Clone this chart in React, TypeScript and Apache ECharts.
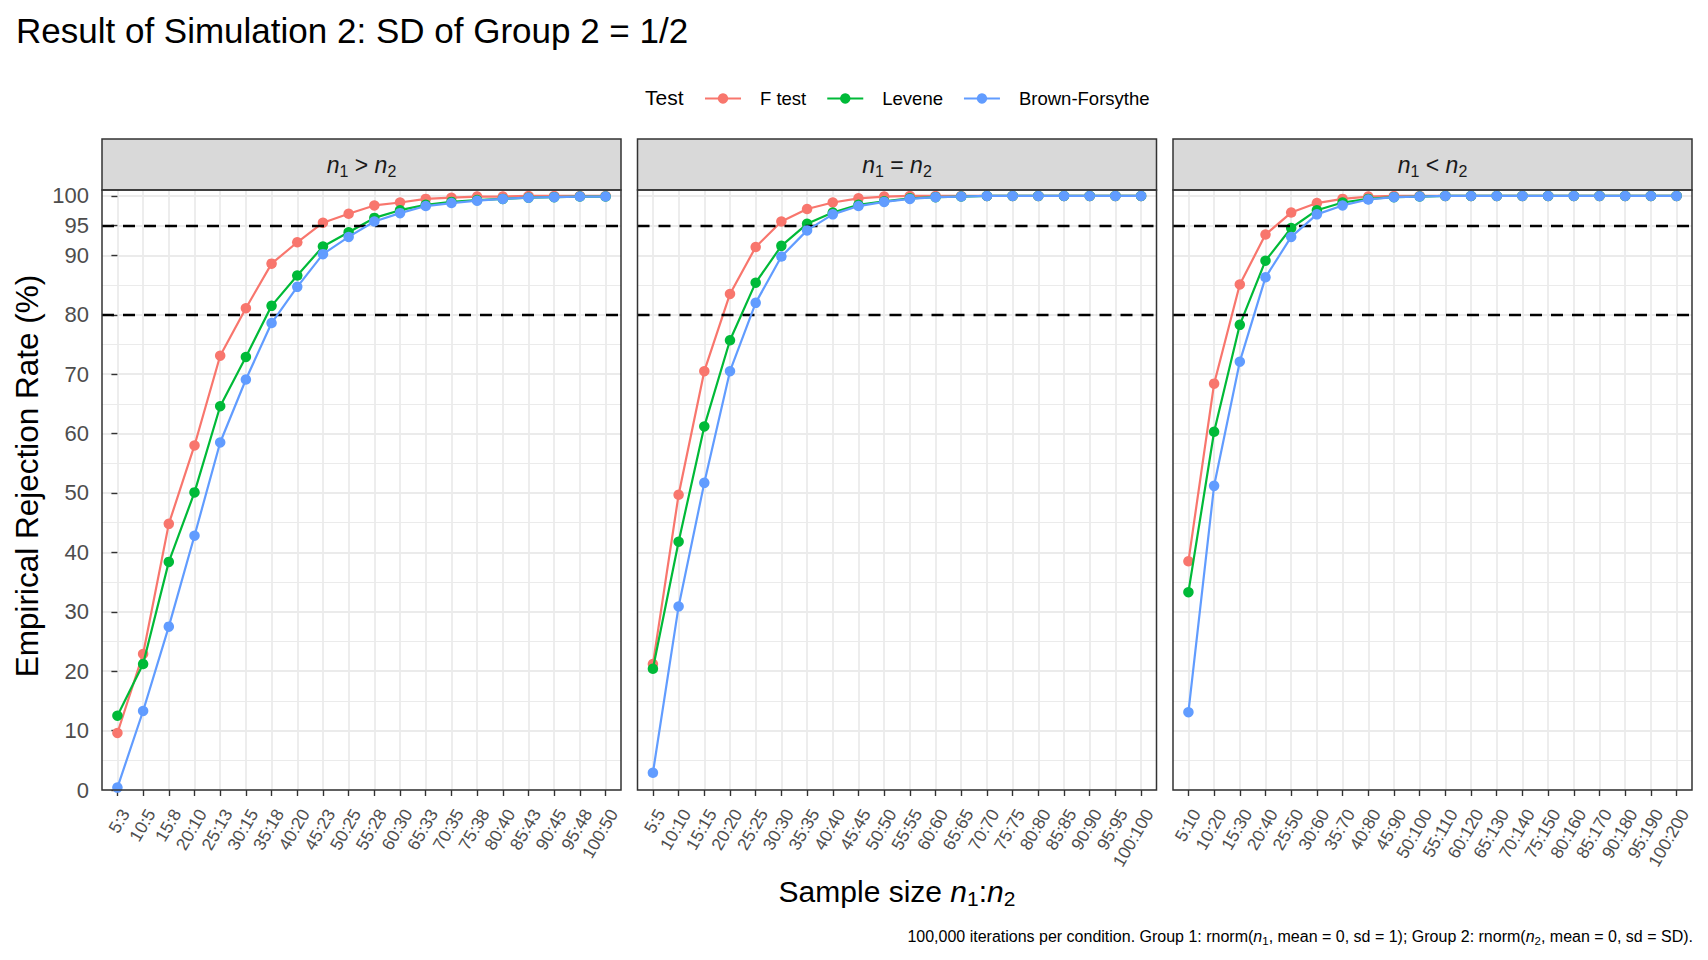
import { useEffect, useRef } from 'react';
import * as echarts from 'echarts';

const FONT = '"Liberation Sans", Arial, Helvetica, sans-serif';

const TESTS = ['F test', 'Levene', 'Brown-Forsythe'];
const COLORS = ['#F8766D', '#00BA38', '#619CFF'];

// x categories (n1:n2) per facet
const labelsGt = ['5:3', '10:5', '15:8', '20:10', '25:13', '30:15', '35:18', '40:20', '45:23', '50:25', '55:28', '60:30', '65:33', '70:35', '75:38', '80:40', '85:43', '90:45', '95:48', '100:50'];
const labelsEq = ['5:5', '10:10', '15:15', '20:20', '25:25', '30:30', '35:35', '40:40', '45:45', '50:50', '55:55', '60:60', '65:65', '70:70', '75:75', '80:80', '85:85', '90:90', '95:95', '100:100'];
const labelsLt = ['5:10', '10:20', '15:30', '20:40', '25:50', '30:60', '35:70', '40:80', '45:90', '50:100', '55:110', '60:120', '65:130', '70:140', '75:150', '80:160', '85:170', '90:180', '95:190', '100:200'];

// empirical rejection rate (%), n1 > n2
const fTestGt = [9.6, 22.9, 44.8, 58.0, 73.1, 81.1, 88.6, 92.2, 95.5, 97.0, 98.4, 98.9, 99.5, 99.7, 99.9, 99.9, 100, 100, 100, 100];
const leveneGt = [12.5, 21.2, 38.4, 50.1, 64.6, 72.9, 81.5, 86.6, 91.5, 93.9, 96.3, 97.6, 98.5, 99.0, 99.3, 99.5, 99.7, 99.8, 99.9, 99.9];
const bfGt = [0.4, 13.3, 27.5, 42.8, 58.5, 69.1, 78.6, 84.7, 90.2, 93.1, 95.7, 97.1, 98.3, 98.8, 99.2, 99.5, 99.7, 99.8, 99.9, 99.9];

// n1 = n2
const fTestEq = [21.2, 49.7, 70.5, 83.5, 91.4, 95.7, 97.8, 98.9, 99.6, 99.9, 100, 100, 100, 100, 100, 100, 100, 100, 100, 100];
const leveneEq = [20.4, 41.8, 61.2, 75.7, 85.4, 91.6, 95.3, 97.2, 98.5, 99.1, 99.6, 99.8, 99.9, 100, 100, 100, 100, 100, 100, 100];
const bfEq = [2.9, 30.9, 51.7, 70.5, 82.0, 89.8, 94.2, 96.9, 98.3, 99.0, 99.5, 99.8, 99.9, 100, 100, 100, 100, 100, 100, 100];

// n1 < n2
const fTestLt = [38.5, 68.4, 85.1, 93.5, 97.2, 98.8, 99.5, 99.9, 100, 100, 100, 100, 100, 100, 100, 100, 100, 100, 100, 100];
const leveneLt = [33.3, 60.3, 78.3, 89.1, 94.6, 97.6, 98.9, 99.5, 99.8, 99.9, 100, 100, 100, 100, 100, 100, 100, 100, 100, 100];
const bfLt = [13.1, 51.2, 72.1, 86.3, 93.1, 96.9, 98.4, 99.4, 99.8, 99.9, 100, 100, 100, 100, 100, 100, 100, 100, 100, 100];

const Y_TICKS = [0, 10, 20, 30, 40, 50, 60, 70, 80, 90, 95, 100];
const REF_LINES = [80, 95];

const PANELS = [
  { strip: ' > ', labels: labelsGt, values: [fTestGt, leveneGt, bfGt] },
  { strip: ' = ', labels: labelsEq, values: [fTestEq, leveneEq, bfEq] },
  { strip: ' < ', labels: labelsLt, values: [fTestLt, leveneLt, bfLt] },
];

// layout (px)
const PANEL_LEFT = [102, 637.5, 1173];
const PANEL_W = 519;
const PANEL_TOP = 190;
const PANEL_H = 600;
const STRIP_TOP = 139;

function richStyles(size: number, subSize: number, color: string) {
  return {
    t: { fontSize: size, fontFamily: FONT, fill: color, lineHeight: size + 6 },
    i: { fontSize: size, fontFamily: FONT, fontStyle: 'italic', fill: color, lineHeight: size + 6 },
    s: { fontSize: subSize, fontFamily: FONT, fill: color, lineHeight: subSize, verticalAlign: 'bottom' },
  };
}

function buildOption() {
  const idx = PANELS[0].labels.map((_, k) => k);

  const grid = PANEL_LEFT.map((left) => ({
    left,
    top: PANEL_TOP,
    width: PANEL_W,
    height: PANEL_H,
    containLabel: false,
    outerBoundsMode: 'none',
  }));

  const xAxis = PANELS.map((p, i) => ({
    type: 'value',
    gridIndex: i,
    min: -0.6,
    max: 19.6,
    axisLine: { show: false },
    axisTick: { show: true, customValues: idx, length: 6, lineStyle: { color: '#333333', width: 1.4 } },
    axisLabel: {
      customValues: idx,
      rotate: 60,
      align: 'right',
      verticalAlign: 'top',
      margin: 16,
      hideOverlap: false,
      color: '#4D4D4D',
      fontSize: 17.5,
      fontFamily: FONT,
      formatter: (v: number) => p.labels[Math.round(v)],
    },
    splitLine: { show: true, lineStyle: { color: '#EBEBEB', width: 1.8 } },
  }));

  // major axes (0..2) carry labels; minor axes (3..5) only draw the 5-step grid
  const yMajor = PANELS.map((_, i) => ({
    type: 'value',
    gridIndex: i,
    min: 0,
    max: 101,
    interval: 10,
    axisLine: { show: false },
    axisTick: { show: i === 0, customValues: Y_TICKS, length: 6, lineStyle: { color: '#333333', width: 1.4 } },
    axisLabel: { show: i === 0, customValues: Y_TICKS, color: '#4D4D4D', fontSize: 22, fontFamily: FONT, margin: 13 },
    splitLine: { show: true, lineStyle: { color: '#EBEBEB', width: 1.8 } },
  }));
  const yMinor = PANELS.map((_, i) => ({
    type: 'value',
    gridIndex: i,
    min: 0,
    max: 101,
    interval: 5,
    position: 'left',
    axisLine: { show: false },
    axisTick: { show: false },
    axisLabel: { show: false },
    splitLine: { show: true, showMinLine: false, showMaxLine: false, lineStyle: { color: '#EBEBEB', width: 1 } },
  }));

  const series: any[] = [];
  PANELS.forEach((p, i) => {
    series.push({
      type: 'line',
      xAxisIndex: i,
      yAxisIndex: i,
      data: [],
      silent: true,
      z: 1,
      markLine: {
        silent: true,
        symbol: ['none', 'none'],
        label: { show: false },
        lineStyle: { color: '#000000', type: [12, 9], width: 2.4 },
        emphasis: { disabled: true },
        data: REF_LINES.map((y) => ({ yAxis: y })),
      },
    });
    p.values.forEach((vals, t) => {
      series.push({
        type: 'line',
        name: TESTS[t],
        xAxisIndex: i,
        yAxisIndex: i,
        data: vals.map((v, k) => [k, v]),
        symbol: 'circle',
        symbolSize: 10.5,
        showSymbol: true,
        showAllSymbol: true,
        clip: false,
        z: 3 + t,
        lineStyle: { color: COLORS[t], width: 2.2 },
        itemStyle: { color: COLORS[t] },
        emphasis: { disabled: true },
      });
    });
  });

  const graphic: any[] = [
    {
      type: 'text',
      x: 16,
      y: 30,
      style: { text: 'Result of Simulation 2: SD of Group 2 = 1/2', fontSize: 35, fontFamily: FONT, fill: '#000000', align: 'left', verticalAlign: 'middle' },
    },
    {
      type: 'text',
      x: 645,
      y: 97,
      style: { text: 'Test', fontSize: 21, fontFamily: FONT, fill: '#000000', align: 'left', verticalAlign: 'middle' },
    },
    {
      type: 'text',
      x: 27,
      y: 476,
      rotation: Math.PI / 2,
      style: { text: 'Empirical Rejection Rate (%)', fontSize: 31.5, fontFamily: FONT, fill: '#000000', align: 'center', verticalAlign: 'middle' },
    },
    {
      type: 'text',
      x: 897,
      y: 891,
      style: {
        text: '{t|Sample size }{i|n}{s|1}{t|:}{i|n}{s|2}',
        rich: richStyles(30, 21, '#000000'),
        align: 'center',
        verticalAlign: 'middle',
      },
    },
    {
      type: 'text',
      x: 1693,
      y: 936,
      style: {
        text: '{t|100,000 iterations per condition. Group 1: rnorm(}{i|n}{s|1}{t|, mean = 0, sd = 1); Group 2: rnorm(}{i|n}{s|2}{t|, mean = 0, sd = SD).}',
        rich: richStyles(16, 11.5, '#000000'),
        align: 'right',
        verticalAlign: 'middle',
      },
    },
  ];

  PANELS.forEach((p, i) => {
    const left = PANEL_LEFT[i];
    graphic.push({
      type: 'rect',
      z: 50,
      silent: true,
      shape: { x: left, y: STRIP_TOP, width: PANEL_W, height: PANEL_TOP - STRIP_TOP },
      style: { fill: '#D9D9D9', stroke: '#333333', lineWidth: 1.5 },
    });
    graphic.push({
      type: 'text',
      z: 51,
      x: left + PANEL_W / 2,
      y: (STRIP_TOP + PANEL_TOP) / 2,
      style: {
        text: `{i|n}{s|1}{t|${p.strip}}{i|n}{s|2}`,
        rich: richStyles(23, 16, '#1A1A1A'),
        align: 'center',
        verticalAlign: 'middle',
      },
    });
    graphic.push({
      type: 'rect',
      z: 100,
      silent: true,
      shape: { x: left, y: PANEL_TOP, width: PANEL_W, height: PANEL_H },
      style: { fill: 'none', stroke: '#333333', lineWidth: 1.5 },
    });
  });

  return {
    animation: false,
    backgroundColor: '#FFFFFF',
    textStyle: { fontFamily: FONT },
    grid,
    xAxis,
    yAxis: [...yMajor, ...yMinor],
    legend: {
      data: TESTS,
      left: 704,
      top: 89,
      padding: 0,
      itemWidth: 36,
      itemHeight: 13,
      itemGap: 20,
      selectedMode: false,
      textStyle: { fontSize: 18.5, fontFamily: FONT, color: '#000000', padding: [0, 0, 0, 14] },
    },
    series,
    graphic,
  };
}

export default function App() {
  const ref = useRef<HTMLDivElement>(null);

  useEffect(() => {
    document.body.style.margin = '0';
    if (!ref.current) return;
    const chart = echarts.init(ref.current, null, { renderer: 'svg' });
    chart.setOption(buildOption());
    return () => {
      chart.dispose();
    };
  }, []);

  return <div ref={ref} style={{ width: 1708, height: 960, background: '#ffffff' }} />;
}
